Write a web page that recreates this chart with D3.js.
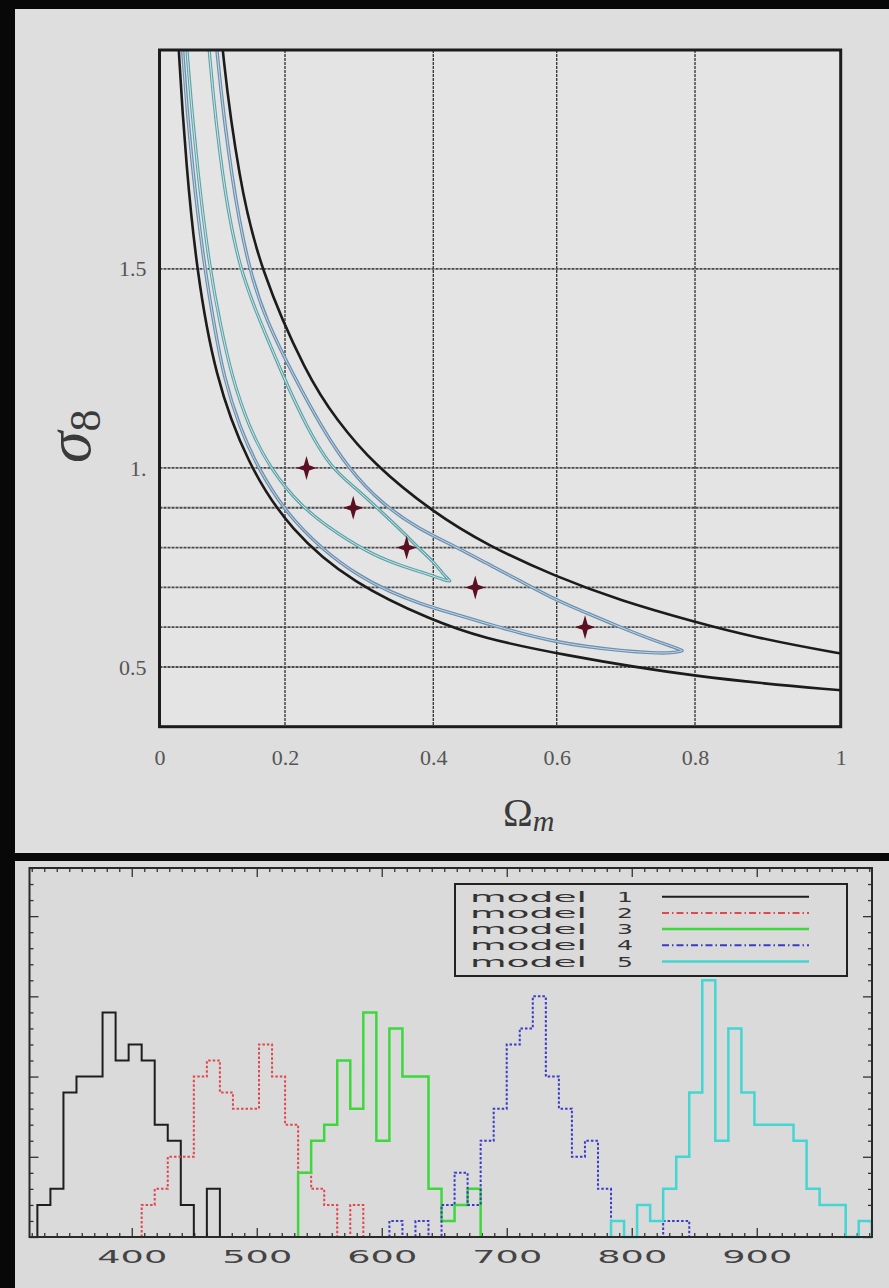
<!DOCTYPE html>
<html>
<head>
<meta charset="utf-8">
<script src="https://cdn.jsdelivr.net/npm/d3@7"></script>
<style>
body { margin: 0; background: #080808; }
svg { display: block; }
</style>
</head>
<body>
<div id="chart"></div>
<script>
// ---- contour plot data (Omega_m, sigma_8) ----
var omegaTicks = [0, 0.2, 0.4, 0.6, 0.8, 1];
var omegaGrid = [0.2, 0.4, 0.6, 0.8];
var sigmaGrid = [0.5, 0.6, 0.7, 0.8, 0.9, 1.0, 1.5];
var sigmaTicks = [0.5, 1.0, 1.5];
var sigmaTickLabels = ["0.5", "1.", "1.5"];

var upperBlack = [[0.094,2.20],[0.099,2.05],[0.127,1.72],[0.160,1.50],[0.230,1.23],[0.270,1.12],[0.319,1.01],[0.400,0.888],[0.487,0.806],[0.600,0.726],[0.692,0.667],[0.800,0.613],[0.880,0.575],[1.000,0.533],[1.050,0.520]];
var lowerBlack = [[0.027,2.20],[0.030,2.05],[0.043,1.75],[0.059,1.50],[0.088,1.23],[0.140,1.01],[0.207,0.843],[0.292,0.709],[0.400,0.616],[0.480,0.573],[0.600,0.533],[0.800,0.474],[1.000,0.441],[1.050,0.435]];
var outerLoop = [[0.032,2.20],[0.036,2.05],[0.052,1.75],[0.072,1.50],[0.087,1.36],[0.102,1.23],[0.128,1.10],[0.157,1.00],[0.200,0.89],[0.250,0.795],[0.300,0.728],[0.340,0.690],[0.382,0.659],[0.432,0.634],[0.487,0.609],[0.541,0.585],[0.600,0.563],[0.643,0.551],[0.692,0.541],[0.740,0.535],[0.768,0.535],[0.782,0.541],[0.782,0.541],[0.770,0.550],[0.740,0.567],[0.692,0.600],[0.643,0.636],[0.600,0.667],[0.541,0.716],[0.487,0.760],[0.432,0.806],[0.382,0.845],[0.330,0.910],[0.285,1.00],[0.250,1.10],[0.212,1.23],[0.170,1.37],[0.142,1.50],[0.115,1.72],[0.090,2.05],[0.085,2.20]];
var innerLoop = [[0.038,2.20],[0.043,2.05],[0.060,1.75],[0.080,1.50],[0.097,1.36],[0.115,1.23],[0.143,1.10],[0.176,1.00],[0.220,0.905],[0.270,0.835],[0.320,0.780],[0.360,0.752],[0.395,0.732],[0.418,0.718],[0.427,0.716],[0.427,0.716],[0.415,0.735],[0.400,0.765],[0.382,0.795],[0.364,0.830],[0.330,0.890],[0.295,0.950],[0.262,1.00],[0.230,1.10],[0.197,1.23],[0.160,1.37],[0.127,1.50],[0.100,1.72],[0.078,2.05],[0.073,2.20]];

var starOmega = [0.229, 0.292, 0.364, 0.468, 0.641];
var starSigma = [1.0, 0.9, 0.8, 0.7, 0.6];

// ---- histogram data ----
var histBinStart = 324.5;
var histBinWidth = 10.43;
var histTicks = [400, 500, 600, 700, 800, 900];
var modelNames = ["1", "2", "3", "4", "5"];
var modelFirstBin = [0, 8, 20, 27, 44];
var model1Counts = [2,3,9,10,10,14,11,12,11,7,6,2,0,3];
var model2Counts = [2,3,5,5,10,11,9,8,8,12,10,7,4,3,2,0,2];
var model3Counts = [4,6,7,11,8,14,6,13,10,10,3,1,2,3];
var model4Counts = [1,0,1,0,2,4,2,6,8,12,13,15,10,8,5,6,3,0,0,0,0,1,1];
var model5Counts = [1,0,2,1,3,5,9,16,6,13,9,7,7,7,6,3,2,2,0,1];
var modelCounts = [model1Counts, model2Counts, model3Counts, model4Counts, model5Counts];

var modelStyle = [
	{ color: "#1e1e1e", width: 2, dash: null, legendDash: null },
	{ color: "#e2474f", width: 2, dash: "2.5,2", legendDash: "7,3,1.5,3" },
	{ color: "#3ed83e", width: 2.5, dash: null, legendDash: null },
	{ color: "#3b3bc8", width: 2, dash: "2.5,2", legendDash: "7,3,1.5,3" },
	{ color: "#44d6d2", width: 2.5, dash: null, legendDash: null }
];

var svg = d3.select("#chart").append("svg")
	.attr("width", 889)
	.attr("height", 1288);

// backgrounds
svg.append("rect").attr("width", 889).attr("height", 1288).attr("fill", "#080808");
svg.append("rect").attr("x", 15).attr("y", 9).attr("width", 874).attr("height", 844).attr("fill", "#dedede");
svg.append("rect").attr("x", 15).attr("y", 861).attr("width", 874).attr("height", 427).attr("fill", "#dadada");

// ================= top: sigma8 vs Omega_m =================
var x = d3.scaleLinear().domain(omegaTicks).range([159.5, 285, 433.3, 556.7, 695, 840.7]);
var y = d3.scaleLinear().domain([0.35, 2.05]).range([726.7, 50]);

var contour = svg.append("g").attr("class", "contour-plot");

contour.append("rect")
	.attr("x", x(0)).attr("y", y(2.05))
	.attr("width", x(1) - x(0)).attr("height", y(0.35) - y(2.05))
	.attr("fill", "#e4e4e4");

contour.append("clipPath").attr("id", "topClip")
	.append("rect")
	.attr("x", x(0)).attr("y", y(2.05))
	.attr("width", x(1) - x(0)).attr("height", y(0.35) - y(2.05));

// grid
contour.selectAll("line.vgrid").data(omegaGrid).enter().append("line")
	.attr("class", "vgrid")
	.attr("x1", d => x(d)).attr("x2", d => x(d))
	.attr("y1", y(2.05)).attr("y2", y(0.35))
	.attr("stroke", "#3c3c3c").attr("stroke-width", 1.4).attr("stroke-dasharray", "3,1");

contour.selectAll("line.hgrid").data(sigmaGrid).enter().append("line")
	.attr("class", "hgrid")
	.attr("x1", x(0)).attr("x2", x(1))
	.attr("y1", d => y(d)).attr("y2", d => y(d))
	.attr("stroke", "#4a4a4a").attr("stroke-width", 1.8).attr("stroke-dasharray", "3,1");

var curve = d3.line()
	.x(d => x(d[0]))
	.y(d => y(d[1]))
	.curve(d3.curveBasis);

var curves = contour.append("g").attr("clip-path", "url(#topClip)");

// contours: tube look (dark edge, pale centre)
curves.append("path").attr("d", curve(outerLoop))
	.attr("fill", "none").attr("stroke", "#6d90b0").attr("stroke-width", 3.4);
curves.append("path").attr("d", curve(outerLoop))
	.attr("fill", "none").attr("stroke", "#c2d8e4").attr("stroke-width", 1);
curves.append("path").attr("d", curve(innerLoop))
	.attr("fill", "none").attr("stroke", "#5ca2a8").attr("stroke-width", 3.2);
curves.append("path").attr("d", curve(innerLoop))
	.attr("fill", "none").attr("stroke", "#cde7e8").attr("stroke-width", 1);

curves.append("path").attr("d", curve(upperBlack))
	.attr("fill", "none").attr("stroke", "#1c1c1c").attr("stroke-width", 2.6);
curves.append("path").attr("d", curve(lowerBlack))
	.attr("fill", "none").attr("stroke", "#1c1c1c").attr("stroke-width", 2.6);

// 4-point star markers
var star4 = {
	draw: function(context, r) {
		var w = r * 0.22;
		context.moveTo(0, -r);
		context.lineTo(w, -w);
		context.lineTo(r * 0.85, 0);
		context.lineTo(w, w);
		context.lineTo(0, r);
		context.lineTo(-w, w);
		context.lineTo(-r * 0.85, 0);
		context.lineTo(-w, -w);
		context.closePath();
	}
};
contour.selectAll("path.star").data(starOmega).enter().append("path")
	.attr("class", "star")
	.attr("d", d3.symbol().type(star4).size(12))
	.attr("transform", (d, i) => "translate(" + x(d) + "," + y(starSigma[i]) + ")")
	.attr("fill", "#5a0f22");

// frame
contour.append("rect")
	.attr("x", x(0)).attr("y", y(2.05))
	.attr("width", x(1) - x(0)).attr("height", y(0.35) - y(2.05))
	.attr("fill", "none").attr("stroke", "#1c1c1c").attr("stroke-width", 3);

// axes (labels only)
var xAxisTop = contour.append("g")
	.attr("transform", "translate(0," + y(0.35) + ")")
	.call(d3.axisBottom(x).tickValues(omegaTicks).tickSize(0).tickPadding(23)
		.tickFormat(d3.format("~g")));
var yAxisTop = contour.append("g")
	.attr("transform", "translate(" + x(0) + ",0)")
	.call(d3.axisLeft(y).tickValues(sigmaTicks).tickSize(0).tickPadding(13)
		.tickFormat((d, i) => sigmaTickLabels[i]));
[xAxisTop, yAxisTop].forEach(function(g) {
	g.select(".domain").remove();
	g.selectAll("text")
		.attr("font-family", "Liberation Serif, serif")
		.attr("font-size", 22)
		.attr("fill", "#555");
});

// axis titles
var sigmaTitle = contour.append("text")
	.attr("transform", "translate(90,463) rotate(-90)")
	.attr("font-family", "Liberation Serif, serif")
	.attr("fill", "#3a3a3a");
sigmaTitle.append("tspan").attr("font-style", "italic").attr("font-size", 64).text("σ");
sigmaTitle.append("tspan").attr("font-size", 44).attr("dy", 10).text("8");

var omegaTitle = contour.append("text")
	.attr("x", 503).attr("y", 826)
	.attr("font-family", "Liberation Serif, serif")
	.attr("fill", "#3a3a3a");
omegaTitle.append("tspan").attr("font-size", 40).text("Ω");
omegaTitle.append("tspan").attr("font-size", 30).attr("font-style", "italic").attr("dy", 5).text("m");

// ================= bottom: histograms =================
var hx = d3.scaleLinear().domain([318.2, 992.2]).range([29.5, 872]);
var hy = d3.scaleLinear().domain([0, 23]).range([1237, 868]);

var hist = svg.append("g").attr("class", "hist-plot");

var minorX = d3.range(320, 992, 10).filter(d => d % 100 !== 0);
var minorY = d3.range(0, 24, 1).filter(d => d % 5 !== 0);
var majorY = d3.range(0, 24, 5);

function tickAxis(axisFn, scale, values, size, translate) {
	hist.append("g")
		.attr("transform", translate)
		.call(axisFn(scale).tickValues(values).tickSizeInner(size).tickSizeOuter(0).tickFormat(""))
		.call(g => g.select(".domain").remove())
		.selectAll("line").attr("stroke", "#333").attr("stroke-width", 1.3);
}
tickAxis(d3.axisBottom, hx, minorX, -4, "translate(0," + hy(0) + ")");
tickAxis(d3.axisBottom, hx, histTicks, -9, "translate(0," + hy(0) + ")");
tickAxis(d3.axisTop, hx, minorX, -4, "translate(0," + hy(23) + ")");
tickAxis(d3.axisTop, hx, histTicks, -9, "translate(0," + hy(23) + ")");
tickAxis(d3.axisLeft, hy, minorY, -4, "translate(" + hx(318.2) + ",0)");
tickAxis(d3.axisLeft, hy, majorY, -9, "translate(" + hx(318.2) + ",0)");
tickAxis(d3.axisRight, hy, minorY, -4, "translate(" + hx(992.2) + ",0)");
tickAxis(d3.axisRight, hy, majorY, -9, "translate(" + hx(992.2) + ",0)");

// histogram step outlines
function stepPoints(first, counts) {
	var pts = [];
	var x0 = histBinStart + first * histBinWidth;
	pts.push([x0, 0]);
	counts.forEach(function(c, i) {
		var a = histBinStart + (first + i) * histBinWidth;
		pts.push([a, c], [a + histBinWidth, c]);
	});
	pts.push([histBinStart + (first + counts.length) * histBinWidth, 0]);
	return pts;
}
var stepLine = d3.line().x(d => hx(d[0])).y(d => hy(d[1]));

modelCounts.forEach(function(counts, i) {
	var s = modelStyle[i];
	hist.append("path")
		.attr("d", stepLine(stepPoints(modelFirstBin[i], counts)))
		.attr("fill", "none")
		.attr("stroke", s.color)
		.attr("stroke-width", s.width)
		.attr("stroke-dasharray", s.dash);
});

// frame
hist.append("rect")
	.attr("x", hx(318.2)).attr("y", hy(23))
	.attr("width", hx(992.2) - hx(318.2)).attr("height", hy(0) - hy(23))
	.attr("fill", "none").attr("stroke", "#2a2a2a").attr("stroke-width", 2);

// x labels
var xAxisHist = hist.append("g")
	.attr("transform", "translate(0," + hy(0) + ")")
	.call(d3.axisBottom(hx).tickValues(histTicks).tickSize(0).tickPadding(13).tickFormat(d3.format("d")));
xAxisHist.select(".domain").remove();
xAxisHist.selectAll("text")
	.attr("font-family", "DejaVu Sans, sans-serif")
	.attr("font-size", 18)
	.attr("fill", "#444")
	.attr("textLength", 70)
	.attr("lengthAdjust", "spacingAndGlyphs");

// legend
var legend = hist.append("g").attr("class", "legend");
legend.append("rect")
	.attr("x", 455).attr("y", 884).attr("width", 392).attr("height", 92)
	.attr("fill", "none").attr("stroke", "#222").attr("stroke-width", 2);

modelNames.forEach(function(name, i) {
	var rowY = 896.7 + i * 16.2;
	legend.append("text")
		.attr("x", 470).attr("y", rowY + 5)
		.attr("font-family", "DejaVu Sans, sans-serif")
		.attr("font-size", 13.5)
		.attr("fill", "#333")
		.attr("textLength", 117)
		.attr("lengthAdjust", "spacingAndGlyphs")
		.text("model");
	legend.append("text")
		.attr("x", 617).attr("y", rowY + 5)
		.attr("font-family", "DejaVu Sans, sans-serif")
		.attr("font-size", 13.5)
		.attr("fill", "#333")
		.attr("textLength", 16)
		.attr("lengthAdjust", "spacingAndGlyphs")
		.text(name);
	legend.append("line")
		.attr("x1", 662).attr("x2", 809)
		.attr("y1", rowY).attr("y2", rowY)
		.attr("stroke", modelStyle[i].color)
		.attr("stroke-width", modelStyle[i].width)
		.attr("stroke-dasharray", modelStyle[i].legendDash);
});
</script>
</body>
</html>
